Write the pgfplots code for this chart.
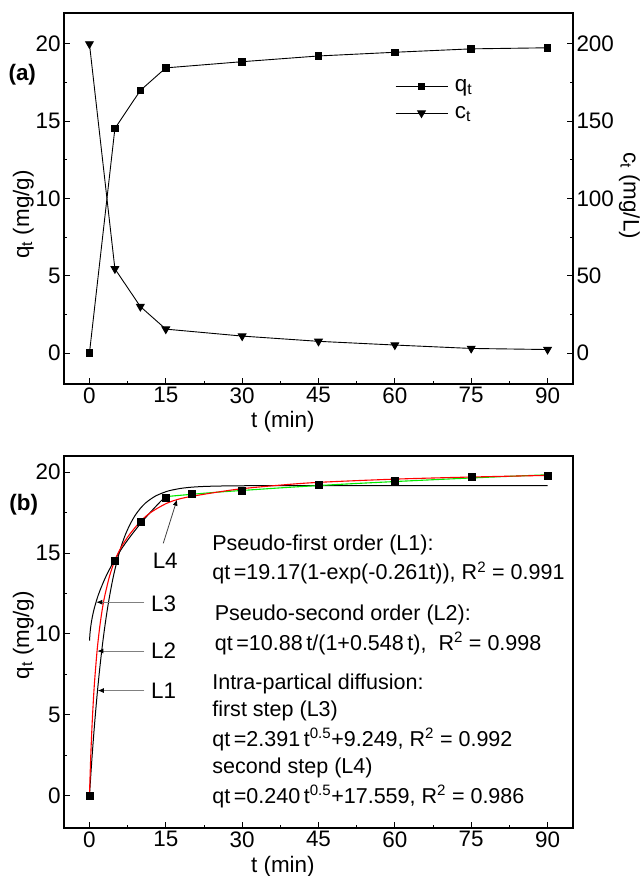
\documentclass[border=0pt]{standalone}
\usepackage{pgfplots}
\pgfplotsset{compat=1.18}
\usepackage{fontspec}
\setmainfont{Liberation Sans}
\usetikzlibrary{arrows.meta}

\definecolor{fitred}{RGB}{255,0,0}
\definecolor{fitgreen}{RGB}{0,235,0}
\definecolor{leadergray}{RGB}{128,128,128}

\newcommand{\fs}[1]{\fontsize{#1}{#1}\selectfont}

\pgfplotsset{
  kinetics/.style={
    scale only axis, width=509bp,
    xmin=-5, xmax=95,
    xtick={0,15,30,45,60,75,90},
    minor x tick num=1,
    minor y tick num=1,
    tick align=inside,
    major tick length=6.5bp, minor tick length=3.5bp,
    every tick/.style={black, line width=0.9bp},
    axis line style={line width=1.2bp},
    tick label style={font=\fs{22.5}},
    label style={font=\fs{22.5}},
    /pgf/number format/assume math mode=true,
    clip=false,
  },
  datastyle/.style={black, line width=0.9bp},
}

\begin{document}
\begin{tikzpicture}
\useasboundingbox (-64bp,-492bp) rectangle (577bp,384bp);

% ---------- (a) adsorption capacity and residual concentration ----------
\begin{axis}[kinetics, at={(0,0)}, anchor=south west, height=371bp,
  ymin=-2, ymax=22, ytick={0,5,10,15,20},
  xtick pos=bottom, ytick pos=left,
  xlabel={t (min)}, ylabel={q\textsubscript{t} (mg/g)},
  xlabel style={at={(axis description cs:0.43,-0.102)}, anchor=center},
  ylabel style={at={(axis description cs:-0.080,0.457)}, anchor=center},
]
\addplot[datastyle, mark=square*, mark size=3.3bp, mark options={solid}]
  coordinates {(0,0) (5,14.53) (10,16.99) (15,18.45) (30,18.85) (45,19.22) (60,19.46) (75,19.68) (90,19.75)};
\node[font=\fs{22.5}\bfseries] at (axis description cs:-0.082,0.835) {(a)};
\end{axis}

\begin{axis}[kinetics, at={(0,0)}, anchor=south west, height=371bp,
  ymin=-20, ymax=220, ytick={0,50,100,150,200},
  axis x line=none, axis y line*=right, xtick=\empty,
  ylabel={c\textsubscript{t} (mg/L)},
  ylabel style={at={(axis description cs:1.111,0.508)}, anchor=center, rotate=180},
  legend style={at={(axis description cs:0.65,0.826)}, anchor=north west,
    draw=none, fill=none, font=\fs{22.5}, row sep=9bp, inner sep=0pt},
  legend cell align=left,
  legend image code/.code={
    \draw[mark repeat=2, mark phase=2, #1] plot coordinates {(0bp,0bp) (26bp,0bp) (52bp,0bp)};
  },
]
\addlegendimage{datastyle, mark=square*, mark size=3.3bp}
\addlegendentry{\hspace{5bp}q\textsubscript{t}}
\addplot[datastyle, mark=triangle*, mark size=4.4bp, mark options={rotate=180}]
  coordinates {(0,200) (5,54.5) (10,30.1) (15,15.5) (30,11.0) (45,7.6) (60,5.2) (75,3.0) (90,2.3)};
\addlegendentry{\hspace{5bp}c\textsubscript{t}}
\end{axis}

% ---------- (b) kinetic model fits ----------
\begin{axis}[kinetics, at={(0,-72bp)}, anchor=north west, height=372bp,
  ymin=-2, ymax=21, ytick={0,5,10,15,20},
  xtick pos=bottom, ytick pos=left,
  xlabel={t (min)}, ylabel={q\textsubscript{t} (mg/g)},
  xlabel style={at={(axis description cs:0.43,-0.105)}, anchor=center},
  ylabel style={at={(axis description cs:-0.080,0.518)}, anchor=center},
]
% L1: pseudo-first order
\addplot[black, line width=1bp, smooth] coordinates {
  (0,0) (0.5,2.35) (1,4.40) (1.5,6.21) (2,7.80) (2.5,9.19) (3,10.41) (3.5,11.48)
  (4,12.42) (4.5,13.25) (5,13.97) (6,15.17) (7,16.09) (8,16.79) (9,17.34)
  (10,17.76) (11,18.09) (12,18.33) (13,18.53) (14,18.67) (15,18.79) (16,18.88)
  (18,19.00) (20,19.07) (22,19.11) (25,19.14) (30,19.16) (40,19.17) (60,19.17) (90,19.17)};
% L3: intra-particle diffusion, first step
\addplot[black, line width=1bp, smooth] coordinates {
  (0.02,9.59) (0.05,9.78) (0.1,10.00) (0.2,10.32) (0.4,10.76) (0.6,11.10) (0.8,11.39)
  (1,11.64) (1.5,12.18) (2,12.63) (3,13.39) (4,14.03) (5,14.60) (6,15.11) (7,15.58)
  (8,16.01) (9,16.42) (10,16.81) (11,17.18) (12,17.53) (13,17.87) (14,18.20) (15,18.51)};
% L4: intra-particle diffusion, second step
\addplot[fitgreen, line width=1.1bp, smooth] coordinates {
  (15,18.49) (20,18.63) (25,18.76) (30,18.87) (40,19.08) (50,19.26) (60,19.42)
  (70,19.57) (80,19.71) (90,19.84)};
% L2: pseudo-second order
\addplot[fitred, line width=1.1bp, smooth] coordinates {
  (0,0) (0.25,2.39) (0.5,4.27) (0.75,5.78) (1,7.03) (1.5,8.96) (2,10.38) (2.5,11.48)
  (3,12.34) (4,13.63) (5,14.55) (6,15.22) (7,15.75) (8,16.20) (10,16.95) (12,17.50)
  (15,18.05) (17.5,18.33) (20,18.50) (25,18.76) (30,18.98) (37.5,19.20) (45,19.37)
  (60,19.57) (75,19.70) (90,19.80)};
% measured points
\addplot[only marks, black, mark=square*, mark size=3.5bp] coordinates {
  (0,0) (5,14.54) (10,16.96) (15,18.45) (20,18.70) (30,18.86) (45,19.23) (60,19.48) (75,19.69) (90,19.77)};

% leader arrows
\draw[leadergray, line width=0.8bp, -{Latex[black, length=6bp, width=5bp]}] (axis cs:10.8,11.96) -- (axis cs:1.35,11.96);
\draw[leadergray, line width=0.8bp, -{Latex[black, length=6bp, width=5bp]}] (axis cs:10.8,8.94) -- (axis cs:1.55,8.94);
\draw[leadergray, line width=0.8bp, -{Latex[black, length=6bp, width=5bp]}] (axis cs:10.8,6.50) -- (axis cs:1.65,6.50);
\draw[black!75, line width=0.8bp, -{Latex[black, length=6bp, width=5bp]}] (axis cs:14.5,15.6) -- (axis cs:17.2,18.3);
\node[anchor=west, font=\fs{22.5}, inner sep=0pt] at (axis cs:12.1,11.84) {L3};
\node[anchor=west, font=\fs{22.5}, inner sep=0pt] at (axis cs:12.1,8.97) {L2};
\node[anchor=west, font=\fs{22.5}, inner sep=0pt] at (axis cs:12.1,6.47) {L1};
\node[anchor=west, font=\fs{22.5}, inner sep=0pt] at (axis cs:12.4,14.55) {L4};

% model equations
\begin{scope}[every node/.style={anchor=west, font=\fs{21.6}, inner sep=0pt}]
\node at (axis cs:24.1,15.53) {Pseudo-first order (L1):};
\node at (axis cs:24.1,13.77) {qt\,=19.17(1-exp(-0.261t)), R\textsuperscript{2} = 0.991};
\node at (axis cs:24.6,11.18) {Pseudo-second order (L2):};
\node at (axis cs:24.6,9.42) {qt\,=10.88\,t/(1+0.548\,t),\ \ R\textsuperscript{2} = 0.998};
\node at (axis cs:24.1,6.89) {Intra-partical diffusion:};
\node at (axis cs:24.1,5.22) {first step (L3)};
\node at (axis cs:24.1,3.48) {qt\,=2.391\,t\textsuperscript{0.5}+9.249, R\textsuperscript{2} = 0.992};
\node at (axis cs:24.1,1.70) {second step (L4)};
\node at (axis cs:24.1,-0.04) {qt\,=0.240\,t\textsuperscript{0.5}+17.559, R\textsuperscript{2} = 0.986};
\end{scope}
\node[font=\fs{22.5}\bfseries] at (axis description cs:-0.079,0.868) {(b)};
\end{axis}
\end{tikzpicture}
\end{document}
